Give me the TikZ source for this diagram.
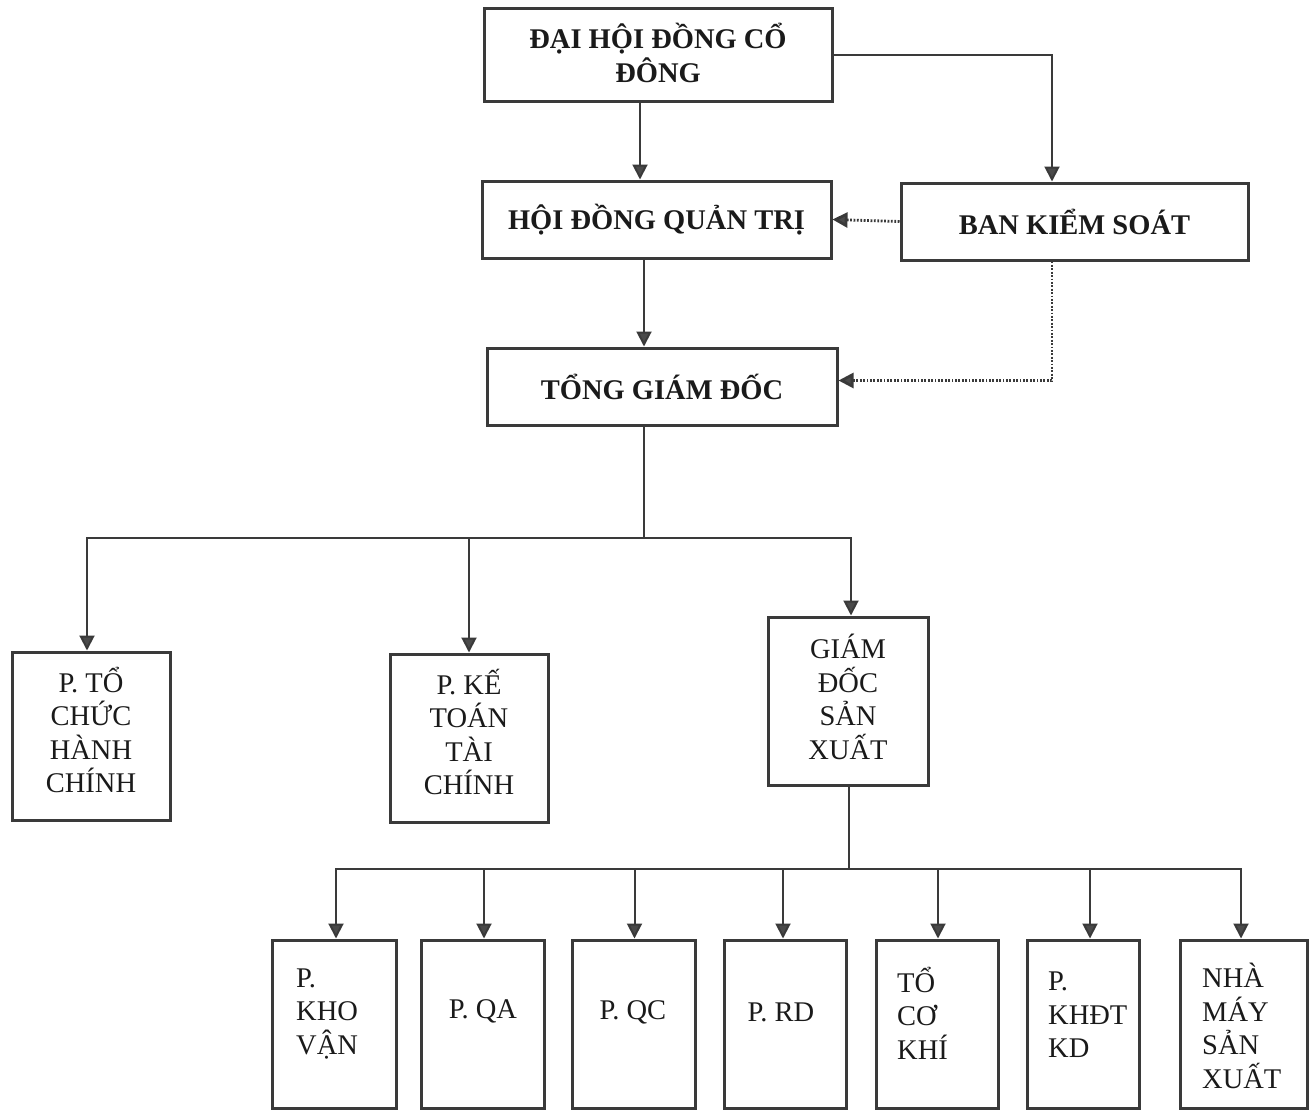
\documentclass[tikz,border=0pt]{standalone}
\usepackage{fontspec}
\setmainfont{Liberation Serif}
\usetikzlibrary{arrows.meta}
\definecolor{linec}{HTML}{3A3A3A}
\definecolor{tipc}{HTML}{4A4A4A}
\definecolor{txtc}{HTML}{1A1A1A}
\begin{document}
\begin{tikzpicture}[x=1pt,y=-1pt,
  box/.style={draw=linec, line width=3pt, inner sep=0pt, text=txtc,
    font=\fontsize{28.5}{33.5}\selectfont, align=center},
  topbox/.style={box, font=\fontsize{28.5}{34}\selectfont\bfseries},
  txt/.style={inner sep=0pt, text=txtc, font=\fontsize{28.5}{33.5}\selectfont},
  conn/.style={draw=linec, line width=2pt},
  arr/.style={conn, -{Triangle[width=15pt,length=15pt,fill=tipc]}},
  dotarr/.style={arr, line width=2.8pt, dash pattern=on 1.8pt off 1.6pt}]
\useasboundingbox (0,0) rectangle (1315,1111);
% top level
\node[topbox, minimum width=348pt, minimum height=93pt] (dh) at (658,54.5) {};
\node[txt, font=\fontsize{28.5}{34}\selectfont\bfseries, align=center] (dht) at (658,53) {ĐẠI HỘI ĐỒNG CỔ\\ĐÔNG};
\node[topbox, minimum width=349pt, minimum height=77pt] (hd) at (656.5,219.5) {HỘI ĐỒNG QUẢN TRỊ};
\node[topbox, minimum width=347pt, minimum height=77pt] (bk) at (1074.5,221.5) {BAN KIỂM SOÁT};
\node[topbox, minimum width=350pt, minimum height=77pt] (tg) at (662,386.5) {TỔNG GIÁM ĐỐC};
% second level
\node[box, minimum width=158pt, minimum height=168pt] (tc) at (91,736) {};
\node[box, minimum width=158pt, minimum height=168pt] (kt) at (469,738) {};
\node[box, minimum width=160pt, minimum height=168pt] (gd) at (848,701) {};
\node[txt, align=center] (tct) at (91,730) {P. TỔ\\CHỨC\\HÀNH\\CHÍNH};
\node[txt, align=center] (ktt) at (469,732) {P. KẾ\\TOÁN\\TÀI\\CHÍNH};
\node[txt, align=center] (gdt) at (848,697) {GIÁM\\ĐỐC\\SẢN\\XUẤT};
% third level boxes
\node[box, minimum width=124pt, minimum height=168pt] (kv) at (334.5,1024) {};
\node[box, minimum width=123pt, minimum height=168pt] (qa) at (483,1024) {};
\node[box, minimum width=123pt, minimum height=168pt] (qc) at (633.5,1024) {};
\node[box, minimum width=122pt, minimum height=168pt] (rd) at (785,1024) {};
\node[box, minimum width=122pt, minimum height=168pt] (ck) at (937,1024) {};
\node[box, minimum width=112pt, minimum height=168pt] (kh) at (1083,1024) {};
\node[box, minimum width=127pt, minimum height=168pt] (nm) at (1243.5,1024) {};
% third level texts
\node[txt, align=left, anchor=west] (kvt) at (296,1014) {P.\\KHO\\VẬN};
\node[txt] (qat) at (483,1011) {P. QA};
\node[txt] (qct) at (633,1012) {P. QC};
\node[txt] (rdt) at (781,1012) {P. RD};
\node[txt, align=left, anchor=west] (ckt) at (897,1013) {TỔ\\CƠ\\KHÍ};
\node[txt, align=left, anchor=west] (kht) at (1048,1015) {P.\\KHĐT\\KD};
\node[txt, align=left, anchor=west] (nmt) at (1202,1026) {NHÀ\\MÁY\\SẢN\\XUẤT};
% connectors top
\draw[arr] ([xshift=-18pt]dh.south) -- ([xshift=-18pt]dh.south |- hd.north);
\draw[arr] (dh.east) -| ([xshift=-22.5pt]bk.north);
\draw[dotarr] (bk.west) -- (hd.east);
\draw[arr] ([xshift=-12.5pt]hd.south) -- ([xshift=-12.5pt]hd.south |- tg.north);
\draw[dotarr] ([xshift=-22.5pt]bk.south) |- ([yshift=6pt]tg.east);
% second level bus
\coordinate (bus1) at (644,538);
\draw[conn] ([xshift=-18pt]tg.south) -- (bus1);
\draw[conn, line cap=rect] ([xshift=-4pt]tc.north |- bus1) -- ([xshift=3pt]gd.north |- bus1);
\draw[arr] ([xshift=-4pt]tc.north |- bus1) -- ([xshift=-4pt]tc.north);
\draw[arr] (kt.north |- bus1) -- (kt.north);
\draw[arr] ([xshift=3pt]gd.north |- bus1) -- ([xshift=3pt]gd.north);
% third level bus
\coordinate (bus2) at (849,869);
\draw[conn] ([xshift=1pt]gd.south) -- (bus2);
\draw[conn, line cap=rect] ([xshift=1.5pt]kv.north |- bus2) -- ([xshift=-2.5pt]nm.north |- bus2);
\draw[arr] ([xshift=1.5pt]kv.north |- bus2) -- ([xshift=1.5pt]kv.north);
\draw[arr] ([xshift=1pt]qa.north |- bus2) -- ([xshift=1pt]qa.north);
\draw[arr] ([xshift=1pt]qc.north |- bus2) -- ([xshift=1pt]qc.north);
\draw[arr] ([xshift=-2pt]rd.north |- bus2) -- ([xshift=-2pt]rd.north);
\draw[arr] ([xshift=1pt]ck.north |- bus2) -- ([xshift=1pt]ck.north);
\draw[arr] ([xshift=7pt]kh.north |- bus2) -- ([xshift=7pt]kh.north);
\draw[arr] ([xshift=-2.5pt]nm.north |- bus2) -- ([xshift=-2.5pt]nm.north);
\end{tikzpicture}
\end{document}
